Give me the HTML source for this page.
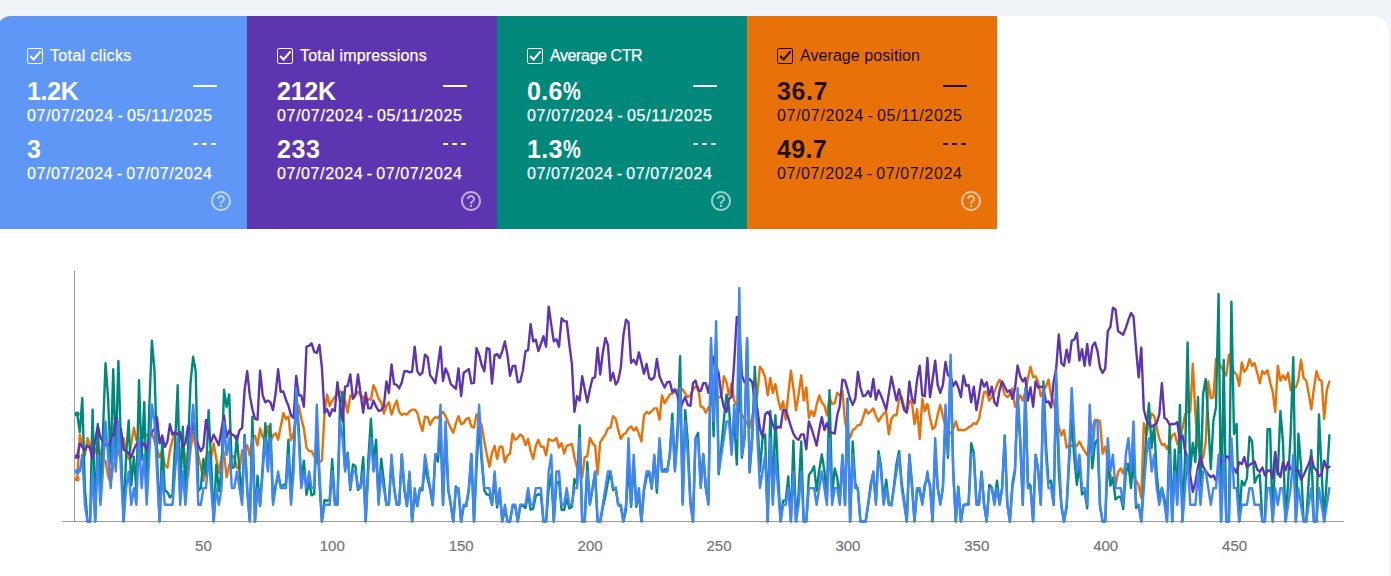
<!DOCTYPE html>
<html><head><meta charset="utf-8"><title>Performance</title>
<style>
html,body{margin:0;padding:0;}
body{width:1391px;height:576px;overflow:hidden;background:#f0f4f9;font-family:"Liberation Sans",sans-serif;position:relative;}
.panel{position:absolute;left:-3px;top:16px;width:1392px;height:600px;background:#fff;border-radius:14px 16px 0 0;overflow:hidden;}
.card{position:absolute;top:0;height:213px;}
.cb{position:absolute;left:30px;top:32px;width:14px;height:14px;border:1px solid #fff;border-radius:2px;}
.cb svg{position:absolute;left:-1px;top:-1px;}
.lbl{position:absolute;left:53px;top:30px;font-size:16px;line-height:20px;white-space:nowrap;}
.v{position:absolute;left:30px;font-size:25px;font-weight:bold;line-height:28px;white-space:nowrap;}
.pc{display:inline-block;width:18px;transform:scaleX(0.8);transform-origin:0 50%;letter-spacing:0;}
.v1{top:61px;}
.v2{top:119px;}
.d{position:absolute;left:30px;font-size:16px;line-height:20px;white-space:nowrap;letter-spacing:0.67px;word-spacing:-1.5px;}
.d1{top:90px;}
.d2{top:148px;letter-spacing:0.61px;}
.ln{position:absolute;left:196px;top:69px;width:24px;height:2px;}
.ds{position:absolute;top:127px;width:5px;height:2px;}
.help{position:absolute;left:212px;top:173px;}
.lbl,.d{-webkit-text-stroke:0.25px;}
.dk .lbl,.dk .d{-webkit-text-stroke:0.1px;}
.chart{position:absolute;left:0;top:0;}
.xl{position:absolute;top:537px;-webkit-text-stroke:0.2px;width:60px;text-align:center;font-size:15px;line-height:18px;color:#757575;}
</style></head><body>
<div class="panel">
<div class="card" style="left:0px;width:250px;background:#5e97f6;color:#ffffff">
<div class="cb" style="border-color:#ffffff"><svg viewBox="0 0 16 16" width="16" height="16"><path d="M3.2 8.1 L6.6 11.4 L13.6 3.4" fill="none" stroke="#ffffff" stroke-width="2.1"/></svg></div>
<div class="lbl" style="letter-spacing:0.36px">Total clicks</div>
<div class="v v1" style="letter-spacing:-0.33px">1.2K</div>
<div class="d d1">07/07/2024 - 05/11/2025</div>
<div class="v v2" style="letter-spacing:0.00px">3</div>
<div class="d d2">07/07/2024 - 07/07/2024</div>
<div class="ln" style="background:#ffffff"></div>
<div class="ds" style="left:196px;background:#ffffff"></div>
<div class="ds" style="left:205px;background:#ffffff"></div>
<div class="ds" style="left:214px;background:#ffffff"></div>
<svg class="help" viewBox="0 0 24 24" width="24" height="24"><path d="M11 18h2v-2h-2v2zm1-16C6.48 2 2 6.48 2 12s4.48 10 10 10 10-4.48 10-10S17.52 2 12 2zm0 18c-4.41 0-8-3.59-8-8s3.59-8 8-8 8 3.59 8 8-3.59 8-8 8zm0-14c-2.21 0-4 1.79-4 4h2c0-1.1.9-2 2-2s2 .9 2 2c0 2-3 1.75-3 5h2c0-2.25 3-2.5 3-5 0-2.21-1.79-4-4-4z" fill="#ffffff" fill-opacity="0.6"/></svg>
</div><div class="card" style="left:250px;width:250px;background:#5e35b1;color:#ffffff">
<div class="cb" style="border-color:#ffffff"><svg viewBox="0 0 16 16" width="16" height="16"><path d="M3.2 8.1 L6.6 11.4 L13.6 3.4" fill="none" stroke="#ffffff" stroke-width="2.1"/></svg></div>
<div class="lbl" style="letter-spacing:0.19px">Total impressions</div>
<div class="v v1" style="letter-spacing:-0.27px">212K</div>
<div class="d d1">07/07/2024 - 05/11/2025</div>
<div class="v v2" style="letter-spacing:0.60px">233</div>
<div class="d d2">07/07/2024 - 07/07/2024</div>
<div class="ln" style="background:#ffffff"></div>
<div class="ds" style="left:196px;background:#ffffff"></div>
<div class="ds" style="left:205px;background:#ffffff"></div>
<div class="ds" style="left:214px;background:#ffffff"></div>
<svg class="help" viewBox="0 0 24 24" width="24" height="24"><path d="M11 18h2v-2h-2v2zm1-16C6.48 2 2 6.48 2 12s4.48 10 10 10 10-4.48 10-10S17.52 2 12 2zm0 18c-4.41 0-8-3.59-8-8s3.59-8 8-8 8 3.59 8 8-3.59 8-8 8zm0-14c-2.21 0-4 1.79-4 4h2c0-1.1.9-2 2-2s2 .9 2 2c0 2-3 1.75-3 5h2c0-2.25 3-2.5 3-5 0-2.21-1.79-4-4-4z" fill="#ffffff" fill-opacity="0.6"/></svg>
</div><div class="card" style="left:500px;width:250px;background:#00897b;color:#ffffff">
<div class="cb" style="border-color:#ffffff"><svg viewBox="0 0 16 16" width="16" height="16"><path d="M3.2 8.1 L6.6 11.4 L13.6 3.4" fill="none" stroke="#ffffff" stroke-width="2.1"/></svg></div>
<div class="lbl" style="letter-spacing:-0.40px">Average CTR</div>
<div class="v v1" style="letter-spacing:0.30px">0.6<span class="pc">%</span></div>
<div class="d d1">07/07/2024 - 05/11/2025</div>
<div class="v v2" style="letter-spacing:0.30px">1.3<span class="pc">%</span></div>
<div class="d d2">07/07/2024 - 07/07/2024</div>
<div class="ln" style="background:#ffffff"></div>
<div class="ds" style="left:196px;background:#ffffff"></div>
<div class="ds" style="left:205px;background:#ffffff"></div>
<div class="ds" style="left:214px;background:#ffffff"></div>
<svg class="help" viewBox="0 0 24 24" width="24" height="24"><path d="M11 18h2v-2h-2v2zm1-16C6.48 2 2 6.48 2 12s4.48 10 10 10 10-4.48 10-10S17.52 2 12 2zm0 18c-4.41 0-8-3.59-8-8s3.59-8 8-8 8 3.59 8 8-3.59 8-8 8zm0-14c-2.21 0-4 1.79-4 4h2c0-1.1.9-2 2-2s2 .9 2 2c0 2-3 1.75-3 5h2c0-2.25 3-2.5 3-5 0-2.21-1.79-4-4-4z" fill="#ffffff" fill-opacity="0.6"/></svg>
</div><div class="card dk" style="left:750px;width:250px;background:#e8710a;color:rgba(0,0,0,0.87)">
<div class="cb" style="border-color:rgba(0,0,0,0.87)"><svg viewBox="0 0 16 16" width="16" height="16"><path d="M3.2 8.1 L6.6 11.4 L13.6 3.4" fill="none" stroke="rgba(0,0,0,0.87)" stroke-width="2.1"/></svg></div>
<div class="lbl" style="letter-spacing:0.07px">Average position</div>
<div class="v v1" style="letter-spacing:0.60px">36.7</div>
<div class="d d1">07/07/2024 - 05/11/2025</div>
<div class="v v2" style="letter-spacing:0.37px">49.7</div>
<div class="d d2">07/07/2024 - 07/07/2024</div>
<div class="ln" style="background:rgba(0,0,0,0.87)"></div>
<div class="ds" style="left:196px;background:rgba(0,0,0,0.87)"></div>
<div class="ds" style="left:205px;background:rgba(0,0,0,0.87)"></div>
<div class="ds" style="left:214px;background:rgba(0,0,0,0.87)"></div>
<svg class="help" viewBox="0 0 24 24" width="24" height="24"><path d="M11 18h2v-2h-2v2zm1-16C6.48 2 2 6.48 2 12s4.48 10 10 10 10-4.48 10-10S17.52 2 12 2zm0 18c-4.41 0-8-3.59-8-8s3.59-8 8-8 8 3.59 8 8-3.59 8-8 8zm0-14c-2.21 0-4 1.79-4 4h2c0-1.1.9-2 2-2s2 .9 2 2c0 2-3 1.75-3 5h2c0-2.25 3-2.5 3-5 0-2.21-1.79-4-4-4z" fill="#ffffff" fill-opacity="0.6"/></svg>
</div>
</div>
<svg class="chart" width="1391" height="576" viewBox="0 0 1391 576">
<rect x="74" y="271" width="1" height="250" fill="#9e9e9e"/>
<rect x="62" y="521" width="1282" height="1" fill="#9e9e9e"/>
<path d="M77.2 479.0 L79.8 434.7 L82.3 445.2 L84.9 455.6 L87.5 438.2 L90.1 445.2 L92.6 457.3 L95.2 451.2 L97.8 445.2 L100.4 452.1 L102.9 460.8 L105.5 460.8 L108.1 476.4 L110.7 483.4 L113.2 466.0 L115.8 459.0 L118.4 452.1 L121.0 445.2 L123.6 438.2 L126.1 452.1 L128.7 459.0 L131.3 443.4 L133.9 427.8 L136.4 439.9 L139.0 438.6 L141.6 437.3 L144.2 436.3 L146.7 435.2 L149.3 434.1 L151.9 433.0 L154.5 441.1 L157.0 449.2 L159.6 457.3 L162.2 450.4 L164.8 465.1 L167.4 467.7 L169.9 450.4 L172.5 439.9 L175.1 433.0 L177.7 433.9 L180.2 434.7 L182.8 445.2 L185.4 457.3 L188.0 476.4 L190.5 450.4 L193.1 433.0 L195.7 446.9 L198.3 455.6 L200.8 466.0 L203.4 480.8 L206.0 457.3 L208.6 452.1 L211.2 457.3 L213.7 443.4 L216.3 459.0 L218.9 472.9 L221.5 457.3 L224.0 452.1 L226.6 477.3 L229.2 466.0 L231.8 455.6 L234.3 457.3 L236.9 467.7 L239.5 468.6 L242.1 450.4 L244.6 450.4 L247.2 445.2 L249.8 455.6 L252.4 438.2 L255.0 435.9 L257.5 445.4 L260.1 428.5 L262.7 436.8 L265.3 439.4 L267.8 426.3 L270.4 441.7 L273.0 435.5 L275.6 433.3 L278.1 439.8 L280.7 426.8 L283.3 413.3 L285.9 419.0 L288.4 416.4 L291.0 440.2 L293.6 433.0 L296.2 419.2 L298.8 405.5 L301.3 418.5 L303.9 428.9 L306.5 447.6 L309.1 451.1 L311.6 451.1 L314.2 456.3 L316.8 462.3 L319.4 462.3 L321.9 460.6 L324.5 412.7 L327.1 394.5 L329.7 405.8 L332.2 400.6 L334.8 397.1 L337.4 393.6 L340.0 391.0 L342.6 395.4 L345.1 400.6 L347.7 412.7 L350.3 395.4 L352.9 397.1 L355.4 394.5 L358.0 391.9 L360.6 395.4 L363.2 397.1 L365.7 404.0 L368.3 398.8 L370.9 399.7 L373.5 385.3 L376.1 391.0 L378.6 398.8 L381.2 402.3 L383.8 413.6 L386.4 405.8 L388.9 402.3 L391.5 414.5 L394.1 406.7 L396.7 400.6 L399.2 411.9 L401.8 414.9 L404.4 413.6 L407.0 414.5 L409.5 411.4 L412.1 409.6 L414.7 409.6 L417.3 412.7 L419.9 423.2 L422.4 431.0 L425.0 416.6 L427.6 417.1 L430.2 424.9 L432.7 419.7 L435.3 417.1 L437.9 417.9 L440.5 414.5 L443.0 411.9 L445.6 416.2 L448.2 422.3 L450.8 428.4 L453.3 432.7 L455.9 423.2 L458.5 416.2 L461.1 424.0 L463.7 423.2 L466.2 418.8 L468.8 417.9 L471.4 426.6 L474.0 427.5 L476.5 414.5 L479.1 419.7 L481.7 425.8 L484.3 441.4 L486.8 454.5 L489.4 466.7 L492.0 452.8 L494.6 445.8 L497.1 458.9 L499.7 446.7 L502.3 446.7 L504.9 462.3 L507.5 455.4 L510.0 453.7 L512.6 433.6 L515.2 439.7 L517.8 437.9 L520.3 434.4 L522.9 437.0 L525.5 445.0 L528.1 438.9 L530.6 451.1 L533.2 458.9 L535.8 445.8 L538.4 439.8 L540.9 446.7 L543.5 446.7 L546.1 455.4 L548.7 438.9 L551.3 440.6 L553.8 440.6 L556.4 438.0 L559.0 447.6 L561.6 443.2 L564.1 453.7 L566.7 445.8 L569.3 445.0 L571.9 444.1 L574.4 457.1 L577.0 467.5 L579.6 471.9 L582.2 477.1 L584.7 457.1 L587.3 456.3 L589.9 437.9 L592.5 443.1 L595.1 445.8 L597.6 474.5 L600.2 442.4 L602.8 437.9 L605.4 434.4 L607.9 428.4 L610.5 427.5 L613.1 416.2 L615.7 418.8 L618.2 430.1 L620.8 438.8 L623.4 434.4 L626.0 432.7 L628.5 428.4 L631.1 426.5 L633.7 430.5 L636.3 427.5 L638.9 433.6 L641.4 441.4 L644.0 415.3 L646.6 411.9 L649.2 413.6 L651.7 411.0 L654.3 408.4 L656.9 408.4 L659.5 419.7 L662.0 395.4 L664.6 403.2 L667.2 398.8 L669.8 394.5 L672.3 393.6 L674.9 391.9 L677.5 390.2 L680.1 388.4 L682.7 389.3 L685.2 393.6 L687.8 397.1 L690.4 395.4 L693.0 389.3 L695.5 386.7 L698.1 386.7 L700.7 406.7 L703.3 407.5 L705.8 412.7 L708.4 407.5 L711.0 404.9 L713.6 402.3 L716.1 399.7 L718.7 397.1 L721.3 397.1 L723.9 376.3 L726.5 382.3 L729.0 395.4 L731.6 383.5 L734.2 400.6 L736.8 405.2 L739.3 409.8 L741.9 414.5 L744.5 419.1 L747.1 423.7 L749.6 428.4 L752.2 416.8 L754.8 405.2 L757.4 393.6 L759.9 366.7 L762.5 370.2 L765.1 377.1 L767.7 395.4 L770.3 378.0 L772.8 392.8 L775.4 384.1 L778.0 398.8 L780.6 409.3 L783.1 401.4 L785.7 419.7 L788.3 393.6 L790.9 370.7 L793.4 388.4 L796.0 410.1 L798.6 394.5 L801.2 375.4 L803.7 400.6 L806.3 387.5 L808.9 417.9 L811.5 411.0 L814.1 416.2 L816.6 404.9 L819.2 395.4 L821.8 402.3 L824.4 405.8 L826.9 415.3 L829.5 397.1 L832.1 404.0 L834.7 403.2 L837.2 392.8 L839.8 395.4 L842.4 391.0 L845.0 421.4 L847.5 431.8 L850.1 437.9 L852.7 430.1 L855.3 428.4 L857.9 424.9 L860.4 424.9 L863.0 417.9 L865.6 409.3 L868.2 413.6 L870.7 411.4 L873.3 408.4 L875.9 416.2 L878.5 421.4 L881.0 417.1 L883.6 413.6 L886.2 411.9 L888.8 434.4 L891.4 418.8 L893.9 415.3 L896.5 415.3 L899.1 398.8 L901.7 397.1 L904.2 406.7 L906.8 411.9 L909.4 400.6 L912.0 403.2 L914.5 424.0 L917.1 409.3 L919.7 438.8 L922.3 398.8 L924.8 411.0 L927.4 404.0 L930.0 417.9 L932.6 429.2 L935.2 426.6 L937.7 414.5 L940.3 404.9 L942.9 416.2 L945.5 426.6 L948.0 431.8 L950.6 433.6 L953.2 428.4 L955.8 421.4 L958.3 430.1 L960.9 429.8 L963.5 430.4 L966.1 429.2 L968.6 427.5 L971.2 425.8 L973.8 423.2 L976.4 424.0 L979.0 418.8 L981.5 405.8 L984.1 391.9 L986.7 391.9 L989.3 400.6 L991.8 397.1 L994.4 391.9 L997.0 384.9 L999.6 379.7 L1002.1 385.8 L1004.7 394.5 L1007.3 397.1 L1009.9 394.5 L1012.4 388.4 L1015.0 406.7 L1017.6 400.6 L1020.2 395.4 L1022.8 400.6 L1025.3 391.9 L1027.9 378.0 L1030.5 366.7 L1033.1 377.1 L1035.6 376.3 L1038.2 382.3 L1040.8 396.2 L1043.4 390.2 L1045.9 386.7 L1048.5 379.7 L1051.1 395.4 L1053.7 402.3 L1056.2 414.5 L1058.8 426.6 L1061.4 435.3 L1064.0 430.1 L1066.6 447.6 L1069.1 445.0 L1071.7 445.8 L1074.3 446.7 L1076.9 445.8 L1079.4 441.5 L1082.0 446.7 L1084.6 451.1 L1087.2 455.4 L1089.7 442.4 L1092.3 428.5 L1094.9 420.0 L1097.5 420.0 L1100.0 421.4 L1102.6 453.7 L1105.2 446.7 L1107.8 459.7 L1110.4 475.4 L1112.9 478.8 L1115.5 485.8 L1118.1 471.9 L1120.7 468.4 L1123.2 473.6 L1125.8 463.2 L1128.4 464.9 L1131.0 471.9 L1133.5 476.2 L1136.1 480.6 L1138.7 485.8 L1141.3 497.9 L1143.8 423.2 L1146.4 435.3 L1149.0 423.2 L1151.6 413.6 L1154.2 416.2 L1156.7 427.5 L1159.3 438.8 L1161.9 444.9 L1164.5 444.0 L1167.0 449.2 L1169.6 442.3 L1172.2 435.3 L1174.8 433.6 L1177.3 444.0 L1179.9 438.8 L1182.5 428.4 L1185.1 414.5 L1187.6 411.0 L1190.2 411.9 L1192.8 363.8 L1195.4 414.5 L1198.0 445.7 L1200.5 456.1 L1203.1 457.9 L1205.7 442.3 L1208.3 381.5 L1210.8 398.0 L1213.4 397.1 L1216.0 358.9 L1218.6 362.4 L1221.1 366.7 L1223.7 371.1 L1226.3 375.4 L1228.9 354.6 L1231.4 365.8 L1234.0 371.9 L1236.6 374.5 L1239.2 385.8 L1241.8 362.4 L1244.3 371.9 L1246.9 368.4 L1249.5 359.2 L1252.1 365.8 L1254.6 363.2 L1257.2 372.8 L1259.8 383.2 L1262.4 371.1 L1264.9 373.7 L1267.5 370.2 L1270.1 382.3 L1272.7 391.9 L1275.2 411.9 L1277.8 365.8 L1280.4 380.6 L1283.0 375.4 L1285.6 379.7 L1288.1 372.8 L1290.7 390.2 L1293.3 386.7 L1295.9 387.5 L1298.4 379.7 L1301.0 359.8 L1303.6 378.0 L1306.2 380.6 L1308.7 393.6 L1311.3 409.3 L1313.9 388.4 L1316.5 371.1 L1319.0 379.7 L1321.6 380.6 L1324.2 418.8 L1326.8 390.2 L1329.4 381.5" fill="none" stroke="#e8710a" stroke-width="2.4" stroke-linejoin="round" stroke-linecap="round"/><circle cx="77.2" cy="479.0" r="2.5" fill="#e8710a"/><path d="M77.2 414.1 L79.8 432.0 L82.3 398.0 L84.9 488.7 L87.5 521.5 L90.1 521.5 L92.6 409.6 L95.2 521.5 L97.8 424.0 L100.4 493.8 L102.9 433.9 L105.5 363.2 L108.1 398.0 L110.7 463.7 L113.2 369.3 L115.8 454.4 L118.4 361.0 L121.0 445.5 L123.6 521.5 L126.1 455.2 L128.7 420.5 L131.3 485.2 L133.9 456.8 L136.4 491.3 L139.0 380.3 L141.6 459.8 L144.2 402.3 L146.7 489.1 L149.3 407.2 L151.9 340.8 L154.5 371.1 L157.0 454.4 L159.6 521.5 L162.2 440.1 L164.8 490.3 L167.4 492.3 L169.9 497.5 L172.5 494.6 L175.1 443.3 L177.7 385.3 L180.2 495.4 L182.8 426.6 L185.4 491.7 L188.0 448.3 L190.5 383.1 L193.1 356.8 L195.7 371.1 L198.3 491.0 L200.8 488.3 L203.4 459.0 L206.0 475.6 L208.6 410.1 L211.2 463.1 L213.7 521.5 L216.3 464.4 L218.9 491.0 L221.5 470.8 L224.0 389.8 L226.6 406.7 L229.2 394.5 L231.8 467.8 L234.3 467.2 L236.9 435.8 L239.5 470.4 L242.1 496.6 L244.6 435.0 L247.2 490.5 L249.8 521.5 L252.4 416.6 L255.0 521.5 L257.5 475.7 L260.1 506.0 L262.7 466.1 L265.3 423.2 L267.8 463.7 L270.4 424.0 L273.0 500.6 L275.6 485.1 L278.1 475.6 L280.7 485.5 L283.3 485.6 L285.9 483.2 L288.4 439.7 L291.0 499.6 L293.6 454.0 L296.2 393.5 L298.8 429.1 L301.3 484.6 L303.9 460.6 L306.5 494.8 L309.1 481.7 L311.6 495.4 L314.2 494.0 L316.8 424.8 L319.4 481.9 L321.9 521.5 L324.5 500.1 L327.1 500.7 L329.7 499.4 L332.2 459.2 L334.8 500.4 L337.4 504.8 L340.0 404.2 L342.6 391.9 L345.1 469.7 L347.7 452.8 L350.3 489.8 L352.9 464.5 L355.4 466.1 L358.0 489.8 L360.6 485.1 L363.2 457.2 L365.7 521.5 L368.3 459.7 L370.9 418.8 L373.5 463.7 L376.1 439.7 L378.6 500.4 L381.2 458.7 L383.8 480.9 L386.4 504.9 L388.9 503.4 L391.5 462.2 L394.1 487.6 L396.7 504.4 L399.2 504.0 L401.8 454.5 L404.4 490.5 L407.0 506.0 L409.5 474.6 L412.1 521.5 L414.7 494.8 L417.3 506.0 L419.9 489.7 L422.4 490.2 L425.0 465.7 L427.6 479.0 L430.2 489.6 L432.7 505.2 L435.3 454.1 L437.9 461.6 L440.5 428.2 L443.0 504.9 L445.6 430.2 L448.2 489.8 L450.8 504.5 L453.3 521.5 L455.9 486.4 L458.5 491.1 L461.1 521.5 L463.7 505.8 L466.2 506.0 L468.8 490.9 L471.4 454.1 L474.0 521.5 L476.5 467.7 L479.1 423.8 L481.7 462.0 L484.3 490.5 L486.8 494.6 L489.4 494.5 L492.0 504.6 L494.6 479.5 L497.1 507.6 L499.7 493.0 L502.3 521.5 L504.9 508.6 L507.5 521.5 L510.0 521.5 L512.6 506.5 L515.2 506.5 L517.8 521.5 L520.3 504.9 L522.9 506.1 L525.5 507.8 L528.1 494.3 L530.6 509.7 L533.2 508.6 L535.8 495.9 L538.4 494.2 L540.9 495.2 L543.5 521.5 L546.1 521.5 L548.7 489.0 L551.3 474.1 L553.8 521.5 L556.4 483.2 L559.0 481.5 L561.6 510.0 L564.1 509.9 L566.7 498.2 L569.3 508.4 L571.9 506.7 L574.4 479.0 L577.0 484.3 L579.6 425.2 L582.2 521.5 L584.7 521.5 L587.3 462.3 L589.9 503.9 L592.5 488.9 L595.1 473.1 L597.6 521.5 L600.2 521.5 L602.8 507.7 L605.4 496.1 L607.9 481.9 L610.5 471.9 L613.1 490.2 L615.7 487.5 L618.2 505.0 L620.8 506.4 L623.4 521.5 L626.0 510.0 L628.5 463.0 L631.1 506.8 L633.7 463.9 L636.3 506.7 L638.9 493.9 L641.4 521.5 L644.0 490.0 L646.6 477.1 L649.2 472.8 L651.7 488.6 L654.3 456.9 L656.9 492.8 L659.5 441.3 L662.0 471.3 L664.6 469.3 L667.2 471.3 L669.8 454.8 L672.3 413.6 L674.9 468.6 L677.5 429.1 L680.1 356.3 L682.7 502.0 L685.2 410.1 L687.8 441.6 L690.4 501.4 L693.0 521.5 L695.5 438.8 L698.1 432.8 L700.7 485.8 L703.3 454.1 L705.8 487.8 L708.4 503.4 L711.0 345.0 L713.6 436.4 L716.1 341.9 L718.7 474.2 L721.3 447.6 L723.9 419.3 L726.5 394.5 L729.0 407.5 L731.6 446.6 L734.2 419.0 L736.8 464.6 L739.3 353.5 L741.9 457.7 L744.5 437.8 L747.1 339.6 L749.6 472.5 L752.2 437.8 L754.8 366.7 L757.4 417.7 L759.9 471.5 L762.5 438.7 L765.1 434.4 L767.7 521.5 L770.3 411.0 L772.8 497.4 L775.4 415.3 L778.0 472.4 L780.6 521.5 L783.1 500.6 L785.7 500.6 L788.3 476.5 L790.9 521.5 L793.4 440.6 L796.0 521.5 L798.6 493.0 L801.2 441.5 L803.7 521.5 L806.3 521.5 L808.9 474.9 L811.5 471.5 L814.1 466.3 L816.6 490.7 L819.2 470.5 L821.8 454.5 L824.4 470.5 L826.9 497.8 L829.5 390.2 L832.1 495.3 L834.7 468.5 L837.2 477.6 L839.8 501.4 L842.4 455.8 L845.0 505.0 L847.5 398.8 L850.1 521.5 L852.7 441.5 L855.3 483.5 L857.9 490.3 L860.4 521.5 L863.0 521.5 L865.6 521.5 L868.2 503.6 L870.7 484.2 L873.3 472.5 L875.9 502.4 L878.5 451.1 L881.0 466.1 L883.6 502.0 L886.2 479.7 L888.8 503.3 L891.4 505.4 L893.9 486.5 L896.5 463.7 L899.1 451.1 L901.7 483.0 L904.2 500.6 L906.8 521.5 L909.4 454.9 L912.0 483.5 L914.5 521.5 L917.1 488.6 L919.7 491.6 L922.3 503.0 L924.8 484.3 L927.4 478.7 L930.0 484.0 L932.6 521.5 L935.2 449.1 L937.7 487.4 L940.3 503.4 L942.9 487.4 L945.5 419.2 L948.0 457.7 L950.6 361.1 L953.2 470.0 L955.8 521.5 L958.3 486.7 L960.9 521.5 L963.5 505.6 L966.1 504.3 L968.6 504.4 L971.2 443.2 L973.8 452.8 L976.4 500.6 L979.0 503.0 L981.5 472.2 L984.1 504.2 L986.7 521.5 L989.3 484.9 L991.8 487.5 L994.4 502.0 L997.0 480.6 L999.6 503.8 L1002.1 488.2 L1004.7 435.4 L1007.3 503.5 L1009.9 521.5 L1012.4 483.5 L1015.0 469.0 L1017.6 402.0 L1020.2 441.3 L1022.8 504.9 L1025.3 391.6 L1027.9 483.0 L1030.5 485.8 L1033.1 521.5 L1035.6 454.9 L1038.2 469.3 L1040.8 504.2 L1043.4 381.5 L1045.9 443.3 L1048.5 482.7 L1051.1 480.6 L1053.7 504.9 L1056.2 384.6 L1058.8 471.7 L1061.4 506.8 L1064.0 521.5 L1066.6 507.9 L1069.1 463.0 L1071.7 418.5 L1074.3 457.4 L1076.9 484.9 L1079.4 463.6 L1082.0 494.5 L1084.6 491.6 L1087.2 508.4 L1089.7 417.2 L1092.3 468.4 L1094.9 443.4 L1097.5 439.5 L1100.0 506.4 L1102.6 521.5 L1105.2 521.5 L1107.8 460.3 L1110.4 485.6 L1112.9 477.9 L1115.5 499.5 L1118.1 497.0 L1120.7 496.8 L1123.2 509.0 L1125.8 473.4 L1128.4 463.7 L1131.0 488.0 L1133.5 453.3 L1136.1 508.0 L1138.7 505.3 L1141.3 521.5 L1143.8 480.0 L1146.4 430.0 L1149.0 403.2 L1151.6 447.8 L1154.2 425.0 L1156.7 474.1 L1159.3 499.7 L1161.9 487.8 L1164.5 499.0 L1167.0 521.5 L1169.6 426.6 L1172.2 521.5 L1174.8 449.8 L1177.3 498.0 L1179.9 404.9 L1182.5 521.5 L1185.1 455.4 L1187.6 342.5 L1190.2 471.0 L1192.8 442.9 L1195.4 462.0 L1198.0 397.1 L1200.5 485.8 L1203.1 394.0 L1205.7 379.0 L1208.3 422.4 L1210.8 469.0 L1213.4 420.5 L1216.0 407.6 L1218.6 293.9 L1221.1 521.5 L1223.7 359.9 L1226.3 521.5 L1228.9 521.5 L1231.4 301.7 L1234.0 433.7 L1236.6 424.0 L1239.2 521.5 L1241.8 480.9 L1244.3 485.3 L1246.9 478.3 L1249.5 436.7 L1252.1 441.6 L1254.6 482.7 L1257.2 476.9 L1259.8 474.5 L1262.4 521.5 L1264.9 521.5 L1267.5 429.2 L1270.1 429.2 L1272.7 521.5 L1275.2 454.5 L1277.8 474.5 L1280.4 411.0 L1283.0 442.7 L1285.6 521.5 L1288.1 482.1 L1290.7 432.3 L1293.3 357.3 L1295.9 521.5 L1298.4 433.6 L1301.0 465.7 L1303.6 521.5 L1306.2 521.5 L1308.7 480.9 L1311.3 450.1 L1313.9 521.5 L1316.5 521.5 L1319.0 414.5 L1321.6 471.9 L1324.2 521.5 L1326.8 477.6 L1329.4 435.3" fill="none" stroke="#00897b" stroke-width="2.4" stroke-linejoin="round" stroke-linecap="round"/><circle cx="77.2" cy="414.1" r="2.5" fill="#00897b"/><path d="M77.2 456.4 L79.8 443.4 L82.3 446.9 L84.9 450.4 L87.5 445.2 L90.1 448.6 L92.6 459.0 L95.2 439.9 L97.8 426.1 L100.4 437.3 L102.9 441.7 L105.5 445.2 L108.1 446.0 L110.7 440.8 L113.2 434.7 L115.8 417.4 L118.4 426.1 L121.0 429.5 L123.6 449.5 L126.1 451.2 L128.7 453.0 L131.3 457.3 L133.9 449.5 L136.4 444.3 L139.0 441.7 L141.6 446.0 L144.2 443.4 L146.7 449.5 L149.3 439.9 L151.9 431.3 L154.5 429.5 L157.0 417.4 L159.6 443.4 L162.2 435.6 L164.8 446.9 L167.4 441.7 L169.9 424.3 L172.5 434.7 L175.1 432.1 L177.7 434.7 L180.2 432.1 L182.8 446.9 L185.4 443.4 L188.0 426.1 L190.5 437.3 L193.1 422.6 L195.7 437.3 L198.3 445.2 L200.8 451.2 L203.4 446.9 L206.0 420.0 L208.6 434.7 L211.2 441.7 L213.7 434.7 L216.3 439.9 L218.9 445.2 L221.5 429.5 L224.0 415.6 L226.6 437.3 L229.2 430.4 L231.8 434.7 L234.3 435.6 L236.9 439.9 L239.5 430.4 L242.1 427.8 L244.6 390.2 L247.2 371.1 L249.8 395.4 L252.4 409.3 L255.0 418.8 L257.5 419.7 L260.1 370.7 L262.7 395.4 L265.3 402.3 L267.8 400.6 L270.4 402.3 L273.0 410.1 L275.6 393.6 L278.1 369.3 L280.7 391.9 L283.3 391.5 L285.9 399.7 L288.4 405.8 L291.0 415.3 L293.6 417.9 L296.2 375.9 L298.8 395.4 L301.3 395.4 L303.9 406.7 L306.5 346.7 L309.1 345.9 L311.6 343.3 L314.2 351.9 L316.8 352.8 L319.4 345.0 L321.9 367.6 L324.5 412.7 L327.1 409.3 L329.7 416.2 L332.2 409.3 L334.8 411.0 L337.4 382.3 L340.0 402.3 L342.6 421.4 L345.1 386.7 L347.7 385.8 L350.3 374.5 L352.9 398.8 L355.4 395.4 L358.0 374.5 L360.6 393.6 L363.2 412.7 L365.7 392.8 L368.3 408.4 L370.9 408.4 L373.5 400.6 L376.1 406.7 L378.6 411.0 L381.2 410.1 L383.8 406.7 L386.4 381.5 L388.9 392.8 L391.5 364.5 L394.1 384.1 L396.7 384.9 L399.2 388.4 L401.8 382.3 L404.4 371.1 L407.0 371.2 L409.5 372.4 L412.1 371.9 L414.7 346.7 L417.3 371.1 L419.9 374.9 L422.4 372.8 L425.0 354.6 L427.6 357.2 L430.2 375.4 L432.7 378.9 L435.3 383.2 L437.9 365.8 L440.5 346.7 L443.0 381.1 L445.6 368.4 L448.2 374.5 L450.8 384.1 L453.3 386.3 L455.9 388.8 L458.5 368.4 L461.1 396.2 L463.7 372.8 L466.2 371.1 L468.8 369.0 L471.4 383.2 L474.0 382.9 L476.5 348.1 L479.1 354.6 L481.7 365.0 L484.3 371.4 L486.8 348.1 L489.4 348.8 L492.0 383.6 L494.6 355.1 L497.1 354.0 L499.7 358.0 L502.3 351.1 L504.9 341.4 L507.5 355.4 L510.0 375.9 L512.6 366.2 L515.2 365.8 L517.8 382.3 L520.3 381.5 L522.9 370.2 L525.5 351.1 L528.1 350.2 L530.6 324.1 L533.2 341.4 L535.8 339.7 L538.4 351.0 L540.9 344.0 L543.5 336.2 L546.1 346.7 L548.7 306.7 L551.3 324.9 L553.8 341.4 L556.4 339.2 L559.0 346.7 L561.6 318.3 L564.1 321.1 L566.7 321.5 L569.3 344.0 L571.9 364.1 L574.4 411.9 L577.0 396.2 L579.6 400.6 L582.2 376.3 L584.7 389.3 L587.3 402.3 L589.9 389.3 L592.5 378.3 L595.1 377.1 L597.6 347.6 L600.2 374.5 L602.8 352.7 L605.4 338.0 L607.9 344.9 L610.5 380.6 L613.1 372.8 L615.7 384.6 L618.2 380.6 L620.8 367.6 L623.4 335.4 L626.0 319.7 L628.5 322.3 L631.1 362.8 L633.7 359.8 L636.3 364.5 L638.9 352.4 L641.4 362.4 L644.0 373.7 L646.6 364.1 L649.2 378.0 L651.7 379.7 L654.3 377.1 L656.9 358.9 L659.5 376.3 L662.0 382.3 L664.6 387.5 L667.2 382.3 L669.8 381.8 L672.3 391.9 L674.9 389.3 L677.5 395.4 L680.1 408.7 L682.7 402.3 L685.2 397.1 L687.8 404.9 L690.4 405.8 L693.0 383.2 L695.5 380.6 L698.1 390.2 L700.7 391.0 L703.3 383.2 L705.8 383.2 L708.4 392.8 L711.0 376.3 L713.6 357.2 L716.1 365.8 L718.7 373.7 L721.3 395.4 L723.9 407.5 L726.5 411.9 L729.0 398.8 L731.6 397.1 L734.2 362.4 L736.8 316.9 L739.3 327.3 L741.9 375.4 L744.5 382.3 L747.1 380.6 L749.6 378.9 L752.2 382.3 L754.8 401.3 L757.4 409.3 L759.9 428.4 L762.5 437.0 L765.1 414.5 L767.7 411.9 L770.3 416.2 L772.8 424.9 L775.4 430.1 L778.0 426.6 L780.6 427.5 L783.1 410.1 L785.7 410.1 L788.3 417.9 L790.9 426.6 L793.4 433.6 L796.0 437.9 L798.6 439.7 L801.2 434.4 L803.7 434.4 L806.3 449.2 L808.9 421.4 L811.5 428.4 L814.1 437.0 L816.6 445.7 L819.2 430.1 L821.8 417.1 L824.4 430.1 L826.9 423.2 L829.5 431.8 L832.1 432.7 L834.7 433.6 L837.2 415.3 L839.8 405.8 L842.4 379.7 L845.0 380.6 L847.5 389.3 L850.1 398.8 L852.7 404.9 L855.3 398.8 L857.9 371.9 L860.4 387.5 L863.0 396.2 L865.6 395.4 L868.2 391.0 L870.7 396.7 L873.3 378.9 L875.9 399.7 L878.5 390.2 L881.0 395.4 L883.6 402.3 L886.2 410.1 L888.8 393.6 L891.4 376.6 L893.9 388.4 L896.5 400.6 L899.1 389.3 L901.7 400.6 L904.2 410.1 L906.8 412.7 L909.4 381.5 L912.0 398.8 L914.5 403.2 L917.1 379.7 L919.7 365.8 L922.3 395.4 L924.8 396.2 L927.4 358.0 L930.0 397.1 L932.6 379.7 L935.2 360.6 L937.7 384.9 L940.3 392.8 L942.9 384.9 L945.5 362.0 L948.0 375.4 L950.6 376.3 L953.2 385.8 L955.8 381.5 L958.3 387.5 L960.9 397.1 L963.5 375.4 L966.1 385.8 L968.6 384.9 L971.2 402.3 L973.8 386.7 L976.4 410.1 L979.0 395.4 L981.5 379.7 L984.1 386.7 L986.7 382.3 L989.3 395.4 L991.8 386.7 L994.4 402.3 L997.0 405.8 L999.6 390.2 L1002.1 381.5 L1004.7 386.7 L1007.3 391.9 L1009.9 390.2 L1012.4 398.8 L1015.0 388.4 L1017.6 365.5 L1020.2 376.3 L1022.8 381.5 L1025.3 378.0 L1027.9 400.6 L1030.5 387.5 L1033.1 406.7 L1035.6 381.5 L1038.2 387.5 L1040.8 386.7 L1043.4 387.5 L1045.9 402.3 L1048.5 401.4 L1051.1 407.5 L1053.7 381.5 L1056.2 368.4 L1058.8 334.5 L1061.4 363.2 L1064.0 365.8 L1066.6 349.6 L1069.1 362.3 L1071.7 340.6 L1074.3 339.7 L1076.9 332.8 L1079.4 360.5 L1082.0 349.3 L1084.6 365.8 L1087.2 344.0 L1089.7 365.2 L1092.3 346.3 L1094.9 342.4 L1097.5 351.1 L1100.0 367.6 L1102.6 372.9 L1105.2 368.6 L1107.8 331.2 L1110.4 326.9 L1112.9 307.8 L1115.5 309.5 L1118.1 331.2 L1120.7 333.0 L1123.2 334.7 L1125.8 327.8 L1128.4 319.9 L1131.0 313.0 L1133.5 316.5 L1136.1 349.5 L1138.7 377.3 L1141.3 347.7 L1143.8 409.3 L1146.4 419.7 L1149.0 424.0 L1151.6 426.6 L1154.2 424.9 L1156.7 423.2 L1159.3 414.5 L1161.9 383.2 L1164.5 417.9 L1167.0 419.7 L1169.6 424.9 L1172.2 424.0 L1174.8 424.0 L1177.3 422.3 L1179.9 439.7 L1182.5 435.4 L1185.1 451.1 L1187.6 458.0 L1190.2 475.4 L1192.8 491.9 L1195.4 482.3 L1198.0 466.7 L1200.5 456.3 L1203.1 466.7 L1205.7 471.0 L1208.3 474.5 L1210.8 477.1 L1213.4 475.4 L1216.0 480.6 L1218.6 468.4 L1221.1 459.7 L1223.7 462.3 L1226.3 456.3 L1228.9 457.1 L1231.4 464.9 L1234.0 468.4 L1236.6 472.8 L1239.2 462.3 L1241.8 464.1 L1244.3 457.1 L1246.9 467.5 L1249.5 464.9 L1252.1 463.2 L1254.6 461.5 L1257.2 469.3 L1259.8 471.9 L1262.4 467.5 L1264.9 475.4 L1267.5 471.0 L1270.1 470.2 L1272.7 478.0 L1275.2 451.9 L1277.8 471.9 L1280.4 477.1 L1283.0 462.3 L1285.6 470.2 L1288.1 462.3 L1290.7 469.3 L1293.3 468.4 L1295.9 471.0 L1298.4 470.2 L1301.0 479.7 L1303.6 475.4 L1306.2 469.3 L1308.7 464.1 L1311.3 456.3 L1313.9 467.5 L1316.5 470.2 L1319.0 476.2 L1321.6 474.5 L1324.2 460.6 L1326.8 468.4 L1329.4 466.7" fill="none" stroke="#5e35b1" stroke-width="2.4" stroke-linejoin="round" stroke-linecap="round"/><circle cx="77.2" cy="456.4" r="2.5" fill="#5e35b1"/><path d="M77.2 471.5 L79.8 471.5 L82.3 454.8 L84.9 504.8 L87.5 521.5 L90.1 521.5 L92.6 471.5 L95.2 521.5 L97.8 454.8 L100.4 504.8 L102.9 471.5 L105.5 421.4 L108.1 454.8 L110.7 488.1 L113.2 438.1 L115.8 471.5 L118.4 421.4 L121.0 471.5 L123.6 521.5 L126.1 488.1 L128.7 471.5 L131.3 504.8 L133.9 488.1 L136.4 504.8 L139.0 438.1 L141.6 488.1 L144.2 454.8 L146.7 504.8 L149.3 454.8 L151.9 404.7 L154.5 421.4 L157.0 471.5 L159.6 521.5 L162.2 471.5 L164.8 504.8 L167.4 504.8 L169.9 504.8 L172.5 504.8 L175.1 471.5 L177.7 438.1 L180.2 504.8 L182.8 471.5 L185.4 504.8 L188.0 471.5 L190.5 438.1 L193.1 404.7 L195.7 438.1 L198.3 504.8 L200.8 504.8 L203.4 488.1 L206.0 488.1 L208.6 454.8 L211.2 488.1 L213.7 521.5 L216.3 488.1 L218.9 504.8 L221.5 488.1 L224.0 421.4 L226.6 454.8 L229.2 438.1 L231.8 488.1 L234.3 488.1 L236.9 471.5 L239.5 488.1 L242.1 504.8 L244.6 438.1 L247.2 488.1 L249.8 521.5 L252.4 438.1 L255.0 521.5 L257.5 488.1 L260.1 504.8 L262.7 471.5 L265.3 438.1 L267.8 471.5 L270.4 438.1 L273.0 504.8 L275.6 488.1 L278.1 471.5 L280.7 488.1 L283.3 488.1 L285.9 488.1 L288.4 454.8 L291.0 504.8 L293.6 471.5 L296.2 388.1 L298.8 438.1 L301.3 488.1 L303.9 471.5 L306.5 488.1 L309.1 471.5 L311.6 488.1 L314.2 488.1 L316.8 404.7 L319.4 471.5 L321.9 521.5 L324.5 504.8 L327.1 504.8 L329.7 504.8 L332.2 471.5 L334.8 504.8 L337.4 504.8 L340.0 421.4 L342.6 438.1 L345.1 471.5 L347.7 454.8 L350.3 488.1 L352.9 471.5 L355.4 471.5 L358.0 488.1 L360.6 488.1 L363.2 471.5 L365.7 521.5 L368.3 471.5 L370.9 438.1 L373.5 471.5 L376.1 454.8 L378.6 504.8 L381.2 471.5 L383.8 488.1 L386.4 504.8 L388.9 504.8 L391.5 454.8 L394.1 488.1 L396.7 504.8 L399.2 504.8 L401.8 454.8 L404.4 488.1 L407.0 504.8 L409.5 471.5 L412.1 521.5 L414.7 488.1 L417.3 504.8 L419.9 488.1 L422.4 488.1 L425.0 454.8 L427.6 471.5 L430.2 488.1 L432.7 504.8 L435.3 454.8 L437.9 454.8 L440.5 404.7 L443.0 504.8 L445.6 421.4 L448.2 488.1 L450.8 504.8 L453.3 521.5 L455.9 488.1 L458.5 488.1 L461.1 521.5 L463.7 504.8 L466.2 504.8 L468.8 488.1 L471.4 454.8 L474.0 521.5 L476.5 454.8 L479.1 404.7 L481.7 454.8 L484.3 488.1 L486.8 488.1 L489.4 488.1 L492.0 504.8 L494.6 471.5 L497.1 504.8 L499.7 488.1 L502.3 521.5 L504.9 504.8 L507.5 521.5 L510.0 521.5 L512.6 504.8 L515.2 504.8 L517.8 521.5 L520.3 504.8 L522.9 504.8 L525.5 504.8 L528.1 488.1 L530.6 504.8 L533.2 504.8 L535.8 488.1 L538.4 488.1 L540.9 488.1 L543.5 521.5 L546.1 521.5 L548.7 471.5 L551.3 454.8 L553.8 521.5 L556.4 471.5 L559.0 471.5 L561.6 504.8 L564.1 504.8 L566.7 488.1 L569.3 504.8 L571.9 504.8 L574.4 488.1 L577.0 488.1 L579.6 438.1 L582.2 521.5 L584.7 521.5 L587.3 471.5 L589.9 504.8 L592.5 488.1 L595.1 471.5 L597.6 521.5 L600.2 521.5 L602.8 504.8 L605.4 488.1 L607.9 471.5 L610.5 471.5 L613.1 488.1 L615.7 488.1 L618.2 504.8 L620.8 504.8 L623.4 521.5 L626.0 504.8 L628.5 438.1 L631.1 504.8 L633.7 454.8 L636.3 504.8 L638.9 488.1 L641.4 521.5 L644.0 488.1 L646.6 471.5 L649.2 471.5 L651.7 488.1 L654.3 454.8 L656.9 488.1 L659.5 438.1 L662.0 471.5 L664.6 471.5 L667.2 471.5 L669.8 454.8 L672.3 421.4 L674.9 471.5 L677.5 438.1 L680.1 388.1 L682.7 504.8 L685.2 421.4 L687.8 454.8 L690.4 504.8 L693.0 521.5 L695.5 438.1 L698.1 438.1 L700.7 488.1 L703.3 454.8 L705.8 488.1 L708.4 504.8 L711.0 338.0 L713.6 421.4 L716.1 321.3 L718.7 471.5 L721.3 454.8 L723.9 438.1 L726.5 421.4 L729.0 421.4 L731.6 454.8 L734.2 404.7 L736.8 438.1 L739.3 288.0 L741.9 454.8 L744.5 438.1 L747.1 338.0 L749.6 471.5 L752.2 438.1 L754.8 388.1 L757.4 438.1 L759.9 488.1 L762.5 471.5 L765.1 454.8 L767.7 521.5 L770.3 438.1 L772.8 504.8 L775.4 454.8 L778.0 488.1 L780.6 521.5 L783.1 504.8 L785.7 504.8 L788.3 488.1 L790.9 521.5 L793.4 471.5 L796.0 521.5 L798.6 504.8 L801.2 471.5 L803.7 521.5 L806.3 521.5 L808.9 488.1 L811.5 488.1 L814.1 488.1 L816.6 504.8 L819.2 488.1 L821.8 471.5 L824.4 488.1 L826.9 504.8 L829.5 438.1 L832.1 504.8 L834.7 488.1 L837.2 488.1 L839.8 504.8 L842.4 454.8 L845.0 504.8 L847.5 404.7 L850.1 521.5 L852.7 454.8 L855.3 488.1 L857.9 488.1 L860.4 521.5 L863.0 521.5 L865.6 521.5 L868.2 504.8 L870.7 488.1 L873.3 471.5 L875.9 504.8 L878.5 454.8 L881.0 471.5 L883.6 504.8 L886.2 488.1 L888.8 504.8 L891.4 504.8 L893.9 488.1 L896.5 471.5 L899.1 454.8 L901.7 488.1 L904.2 504.8 L906.8 521.5 L909.4 454.8 L912.0 488.1 L914.5 521.5 L917.1 488.1 L919.7 488.1 L922.3 504.8 L924.8 488.1 L927.4 471.5 L930.0 488.1 L932.6 521.5 L935.2 438.1 L937.7 488.1 L940.3 504.8 L942.9 488.1 L945.5 404.7 L948.0 454.8 L950.6 354.7 L953.2 471.5 L955.8 521.5 L958.3 488.1 L960.9 521.5 L963.5 504.8 L966.1 504.8 L968.6 504.8 L971.2 454.8 L973.8 454.8 L976.4 504.8 L979.0 504.8 L981.5 471.5 L984.1 504.8 L986.7 521.5 L989.3 488.1 L991.8 488.1 L994.4 504.8 L997.0 488.1 L999.6 504.8 L1002.1 488.1 L1004.7 438.1 L1007.3 504.8 L1009.9 521.5 L1012.4 488.1 L1015.0 471.5 L1017.6 388.1 L1020.2 438.1 L1022.8 504.8 L1025.3 388.1 L1027.9 488.1 L1030.5 488.1 L1033.1 521.5 L1035.6 454.8 L1038.2 471.5 L1040.8 504.8 L1043.4 388.1 L1045.9 454.8 L1048.5 488.1 L1051.1 488.1 L1053.7 504.8 L1056.2 371.4 L1058.8 454.8 L1061.4 504.8 L1064.0 521.5 L1066.6 504.8 L1069.1 454.8 L1071.7 388.1 L1074.3 438.1 L1076.9 471.5 L1079.4 454.8 L1082.0 488.1 L1084.6 488.1 L1087.2 504.8 L1089.7 404.7 L1092.3 454.8 L1094.9 421.4 L1097.5 421.4 L1100.0 504.8 L1102.6 521.5 L1105.2 521.5 L1107.8 438.1 L1110.4 471.5 L1112.9 454.8 L1115.5 488.1 L1118.1 488.1 L1120.7 488.1 L1123.2 504.8 L1125.8 454.8 L1128.4 438.1 L1131.0 471.5 L1133.5 421.4 L1136.1 504.8 L1138.7 504.8 L1141.3 521.5 L1143.8 488.1 L1146.4 454.8 L1149.0 438.1 L1151.6 471.5 L1154.2 454.8 L1156.7 488.1 L1159.3 504.8 L1161.9 488.1 L1164.5 504.8 L1167.0 521.5 L1169.6 454.8 L1172.2 521.5 L1174.8 471.5 L1177.3 504.8 L1179.9 454.8 L1182.5 521.5 L1185.1 488.1 L1187.6 454.8 L1190.2 504.8 L1192.8 504.8 L1195.4 504.8 L1198.0 471.5 L1200.5 504.8 L1203.1 471.5 L1205.7 471.5 L1208.3 488.1 L1210.8 504.8 L1213.4 488.1 L1216.0 488.1 L1218.6 454.8 L1221.1 521.5 L1223.7 454.8 L1226.3 521.5 L1228.9 521.5 L1231.4 438.1 L1234.0 488.1 L1236.6 488.1 L1239.2 521.5 L1241.8 504.8 L1244.3 504.8 L1246.9 504.8 L1249.5 488.1 L1252.1 488.1 L1254.6 504.8 L1257.2 504.8 L1259.8 504.8 L1262.4 521.5 L1264.9 521.5 L1267.5 488.1 L1270.1 488.1 L1272.7 521.5 L1275.2 488.1 L1277.8 504.8 L1280.4 488.1 L1283.0 488.1 L1285.6 521.5 L1288.1 504.8 L1290.7 488.1 L1293.3 454.8 L1295.9 521.5 L1298.4 488.1 L1301.0 504.8 L1303.6 521.5 L1306.2 521.5 L1308.7 504.8 L1311.3 488.1 L1313.9 521.5 L1316.5 521.5 L1319.0 488.1 L1321.6 504.8 L1324.2 521.5 L1326.8 504.8 L1329.4 488.1" fill="none" stroke="#4285f4" stroke-width="2.4" stroke-linejoin="round" stroke-linecap="round"/><circle cx="77.2" cy="471.5" r="2.5" fill="#4285f4"/>
</svg>
<div class="xl" style="left:173.4px">50</div>
<div class="xl" style="left:302.3px">100</div>
<div class="xl" style="left:431.2px">150</div>
<div class="xl" style="left:560.1px">200</div>
<div class="xl" style="left:689.0px">250</div>
<div class="xl" style="left:817.9px">300</div>
<div class="xl" style="left:946.8px">350</div>
<div class="xl" style="left:1075.7px">400</div>
<div class="xl" style="left:1204.6px">450</div>

</body></html>
